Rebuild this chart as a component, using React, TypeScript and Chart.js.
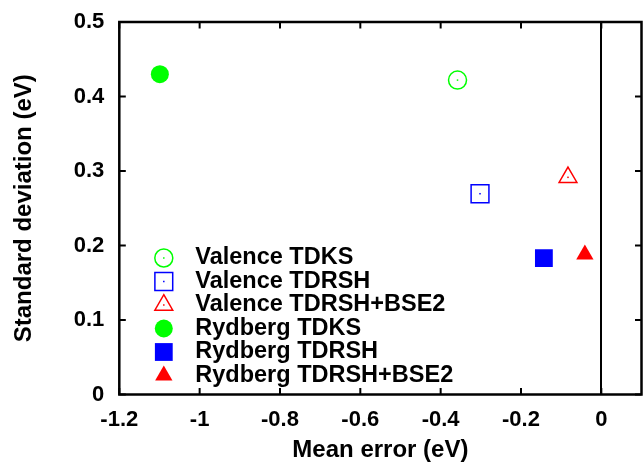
import React, { useEffect, useRef } from 'react';
import { Chart, registerables } from 'chart.js';
import { drawPoint } from 'chart.js/helpers';

Chart.register(...registerables);

// ---- data ----
const seriesLabels = [
  'Valence TDKS',
  'Valence TDRSH',
  'Valence TDRSH+BSE2',
  'Rydberg TDKS',
  'Rydberg TDRSH',
  'Rydberg TDRSH+BSE2',
];
const meanErrors = [-0.358, -0.302, -0.083, -1.099, -0.143, -0.041];
const stdDevs = [0.422, 0.2695, 0.2915, 0.43, 0.183, 0.188];
const xTickValues = [-1.2, -1, -0.8, -0.6, -0.4, -0.2, 0];
const xTickLabels = ['-1.2', '-1', '-0.8', '-0.6', '-0.4', '-0.2', '0'];
const yTickValues = [0, 0.1, 0.2, 0.3, 0.4, 0.5];
const yTickLabels = ['0', '0.1', '0.2', '0.3', '0.4', '0.5'];
const xTitle = 'Mean error (eV)';
const yTitle = 'Standard deviation (eV)';

// ---- styles ----
const seriesColors = ['#00ff00', '#0000ff', '#ff0000', '#00ff00', '#0000ff', '#ff0000'];
const seriesShapes = ['circle', 'rect', 'triangle', 'circle', 'rect', 'triangle'];
const seriesFilled = [false, false, false, true, true, true];
const shapeRadius: Record<string, number> = { circle: 9, rect: 12.6, triangle: 10.3 };
const FONT = '"Liberation Sans", Arial, Helvetica, sans-serif';
const PLOT_RIGHT = 641.5;

function markerOpts(i: number) {
  const shape = seriesShapes[i];
  const filled = seriesFilled[i];
  return {
    pointStyle: shape,
    radius: shape === 'triangle' && filled ? 10 : shapeRadius[shape],
    rotation: 0,
    borderWidth: filled ? 0 : 1.5,
  };
}

function noPad(s: any) {
  s.paddingTop = 0;
  s.paddingBottom = 0;
  s.paddingLeft = 0;
  s.paddingRight = 0;
}

const areaFix = {
  id: 'areafix',
  afterLayout(chart: any) {
    // Stretch the plot area to the right edge used by the reference
    const a = chart.chartArea;
    const extra = PLOT_RIGHT - a.right;
    if (Math.abs(extra) > 0.01) {
      a.right = PLOT_RIGHT;
      a.width = a.right - a.left;
      const x = chart.scales.x;
      x.right = PLOT_RIGHT;
      x.width = x.right - x.left;
      x.configure();
      const y = chart.scales.y;
      y.configure();
    }
  },
};

const framePlugin = {
  id: 'gnuframe',
  afterDatasetsDraw(chart: any) {
    const { ctx, chartArea: a, scales } = chart;
    ctx.save();
    chart.data.datasets.forEach((_ds: any, i: number) => {
      if (seriesFilled[i]) return;
      const meta = chart.getDatasetMeta(i);
      ctx.fillStyle = seriesColors[i];
      meta.data.forEach((el: any) => {
        ctx.fillRect(el.x - 0.75, el.y - 0.75, 1.5, 1.5);
      });
    });
    ctx.strokeStyle = '#000';
    ctx.lineWidth = 2.5;
    ctx.strokeRect(a.left, a.top, a.right - a.left, a.bottom - a.top);
    ctx.lineWidth = 2;
    const L = 6.5;
    const seg = (x1: number, y1: number, x2: number, y2: number) => {
      ctx.beginPath();
      ctx.moveTo(x1, y1);
      ctx.lineTo(x2, y2);
      ctx.stroke();
    };
    scales.x.ticks.forEach((t: any) => {
      const px = scales.x.getPixelForValue(t.value);
      seg(px, a.bottom, px, a.bottom - L);
      seg(px, a.top, px, a.top + L);
    });
    scales.y.ticks.forEach((t: any) => {
      const py = scales.y.getPixelForValue(t.value);
      seg(a.left, py, a.left + L, py);
      seg(a.right, py, a.right - L, py);
    });
    const rowStart = a.top + 236;
    const rowGap = 23.5;
    const markX = a.left + 44.5;
    const textX = a.left + 76;
    ctx.font = 'bold 23.5px ' + FONT;
    ctx.textBaseline = 'middle';
    ctx.textAlign = 'left';
    chart.data.datasets.forEach((ds: any, i: number) => {
      const y = rowStart + i * rowGap;
      const o = markerOpts(i);
      ctx.strokeStyle = seriesColors[i];
      ctx.fillStyle = seriesFilled[i] ? seriesColors[i] : 'rgba(0,0,0,0)';
      ctx.lineWidth = o.borderWidth;
      drawPoint(ctx, o as any, markX, y);
      if (!seriesFilled[i]) {
        ctx.fillStyle = seriesColors[i];
        ctx.fillRect(markX - 0.75, y - 0.75, 1.5, 1.5);
      }
      ctx.fillStyle = '#000';
      ctx.fillText(ds.label, textX, y);
    });
    ctx.restore();
  },
};

export default function App() {
  const ref = useRef<HTMLCanvasElement>(null);
  useEffect(() => {
    const datasets = seriesLabels.map((label, i) => {
      const o = markerOpts(i);
      return {
        label,
        data: [{ x: meanErrors[i], y: stdDevs[i] }],
        pointStyle: o.pointStyle,
        pointRadius: o.radius,
        pointHoverRadius: o.radius,
        pointBorderWidth: o.borderWidth,
        borderColor: seriesColors[i],
        backgroundColor: seriesFilled[i] ? seriesColors[i] : 'rgba(0,0,0,0)',
        showLine: false,
      };
    });
    const chart = new Chart(ref.current as HTMLCanvasElement, {
      type: 'scatter',
      data: { datasets },
      plugins: [areaFix, framePlugin],
      options: {
        animation: false,
        responsive: false,
        devicePixelRatio: 1,
        layout: { padding: { top: 22, right: 1.5, left: 0, bottom: 0 } },
        plugins: { legend: { display: false }, tooltip: { enabled: false } },
        scales: {
          x: {
            type: 'linear',
            min: -1.2,
            max: 0.1,
            afterBuildTicks: (s: any) => {
              s.ticks = xTickValues.map((v) => ({ value: v }));
            },
            afterFit: (s: any) => {
              s.height = 69.5;
              noPad(s);
            },
            border: { display: false },
            grid: {
              drawTicks: false,
              drawOnChartArea: true,
              color: (c: any) => (c.tick && Math.abs(c.tick.value) < 1e-9 ? '#000' : 'rgba(0,0,0,0)'),
              lineWidth: 2,
            },
            ticks: {
              padding: 12,
              color: '#000',
              font: { family: FONT, size: 22, weight: 'bold' },
              callback: (v: any) => {
                const k = xTickValues.findIndex((t) => Math.abs(t - v) < 1e-9);
                return k >= 0 ? xTickLabels[k] : '';
              },
            },
            title: {
              display: true,
              text: xTitle,
              color: '#000',
              font: { family: FONT, size: 24, weight: 'bold', lineHeight: 1.1 },
              padding: { top: 0, bottom: 0 },
            },
          },
          y: {
            type: 'linear',
            min: 0,
            max: 0.5,
            afterBuildTicks: (s: any) => {
              s.ticks = yTickValues.map((v) => ({ value: v }));
            },
            afterFit: (s: any) => {
              s.width = 119.3;
              noPad(s);
            },
            border: { display: false },
            grid: { display: false, drawTicks: false },
            ticks: {
              padding: 15,
              color: '#000',
              font: { family: FONT, size: 22, weight: 'bold' },
              callback: (v: any) => {
                const k = yTickValues.findIndex((t) => Math.abs(t - v) < 1e-9);
                return k >= 0 ? yTickLabels[k] : '';
              },
            },
            title: {
              display: true,
              text: yTitle,
              color: '#000',
              font: { family: FONT, size: 24, weight: 'bold', lineHeight: 1.1 },
              padding: { top: 11.3, bottom: 0 },
            },
          },
        },
      } as any,
    });
    return () => chart.destroy();
  }, []);
  return (
    <div style={{ position: 'fixed', left: 0, top: 0, width: 643, height: 464, background: '#fff', overflow: 'hidden' }}>
      <canvas ref={ref} width={643} height={464} style={{ display: 'block', width: 643, height: 464 }} />
    </div>
  );
}
